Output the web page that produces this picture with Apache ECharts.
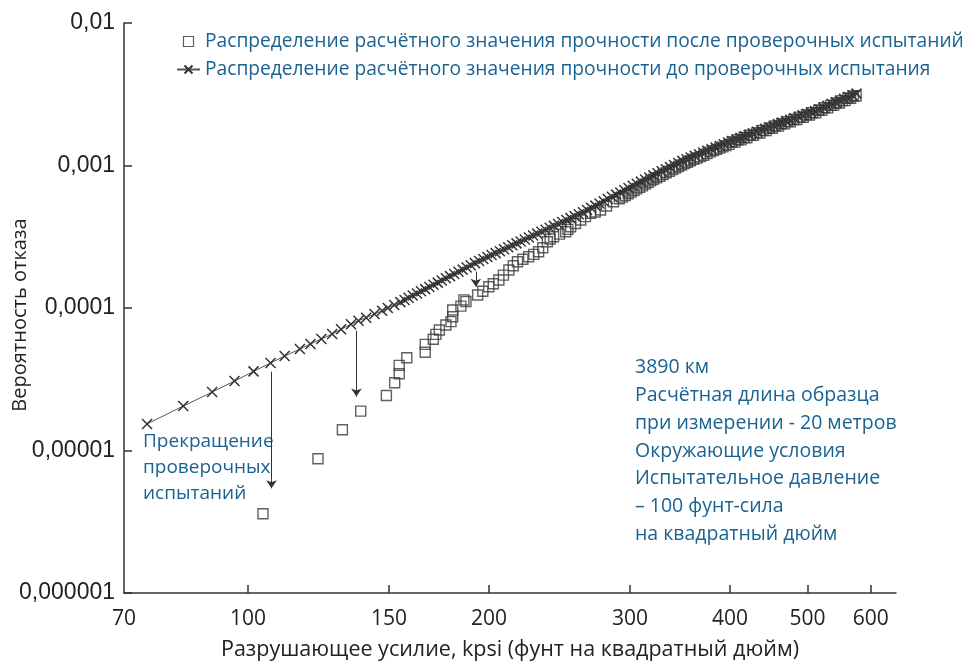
<!DOCTYPE html>
<html>
<head>
<meta charset="utf-8">
<title>Вероятность отказа</title>
<script src="https://cdn.jsdelivr.net/npm/echarts@6/dist/echarts.min.js"></script>
<style>
  html, body { margin: 0; padding: 0; background: #fff; }
  #chart { width: 966px; height: 666px; }
</style>
</head>
<body>
<div id="chart"></div>
<script>
// подписи оси X (kpsi)
const xTickLabels = [70, 100, 150, 200, 300, 400, 500, 600];
const xTickMarks = [100, 150, 200, 300, 400, 500, 600];

const beforeName = 'Распределение расчётного значения прочности до проверочных испытания';
const afterName = 'Распределение расчётного значения прочности после проверочных испытаний';

// до проверочных испытаний (крестики)
const beforeStrength = [
  74.8, 83.0, 90.2, 96.2, 101.6, 106.7, 111.1, 116.1, 119.7, 123.5,
  127.4, 130.7, 134.5, 137.4, 140.5, 143.9, 147.1, 149.5, 152.3, 155.0,
  156.9, 158.7, 160.6, 162.6, 164.5, 166.5, 168.5, 170.5, 172.6, 174.6,
  176.7, 178.8, 181.0, 183.2, 185.4, 187.6, 189.8, 192.1, 194.4, 196.8,
  199.1, 201.5, 203.9, 206.4, 208.9, 211.4, 213.9, 216.5, 219.1, 221.7,
  224.4, 227.1, 229.8, 232.6, 235.4, 238.2, 241.1, 244.0, 246.9, 249.9,
  252.9, 255.9, 259.0, 262.1, 265.2, 268.4, 271.6, 274.9, 278.2, 281.5,
  284.9, 288.3, 291.8, 295.3, 298.8, 302.4, 306.0, 309.7, 313.4, 317.2,
  321.0, 324.8, 328.7, 332.7, 336.7, 340.7, 344.8, 348.9, 353.1, 357.3,
  361.6, 366.0, 370.4, 374.8, 379.3, 383.9, 388.5, 393.1, 397.9, 402.6,
  407.5, 412.3, 417.3, 422.3, 427.3, 432.5, 437.7, 442.9, 448.2, 453.6,
  459.1, 464.6, 470.1, 475.8, 481.5, 487.3, 493.1, 499.0, 505.0, 511.1,
  517.2, 523.4, 529.7, 536.1, 542.5, 549.0, 555.6, 562.3, 569.0, 575.8
];
const beforeProb = [
  1.535e-5, 2.05e-5, 2.57e-5, 3.07e-5, 3.59e-5, 4.11e-5, 4.60e-5, 5.15e-5, 5.59e-5, 6.06e-5,
  6.57e-5, 7.09e-5, 7.69e-5, 8.15e-5, 8.55e-5, 9.08e-5, 9.57e-5, 1.00e-4, 1.05e-4, 1.10e-4,
  1.139e-4, 1.180e-4, 1.222e-4, 1.265e-4, 1.310e-4, 1.357e-4, 1.405e-4, 1.455e-4, 1.507e-4, 1.561e-4,
  1.616e-4, 1.674e-4, 1.733e-4, 1.795e-4, 1.859e-4, 1.925e-4, 1.994e-4, 2.065e-4, 2.138e-4, 2.208e-4,
  2.279e-4, 2.352e-4, 2.427e-4, 2.505e-4, 2.585e-4, 2.667e-4, 2.753e-4, 2.841e-4, 2.932e-4, 3.025e-4,
  3.122e-4, 3.222e-4, 3.325e-4, 3.431e-4, 3.540e-4, 3.653e-4, 3.770e-4, 3.890e-4, 4.014e-4, 4.142e-4,
  4.274e-4, 4.411e-4, 4.551e-4, 4.697e-4, 4.867e-4, 5.044e-4, 5.227e-4, 5.417e-4, 5.613e-4, 5.817e-4,
  6.028e-4, 6.247e-4, 6.474e-4, 6.709e-4, 6.953e-4, 7.205e-4, 7.451e-4, 7.705e-4, 7.968e-4, 8.240e-4,
  8.521e-4, 8.811e-4, 9.112e-4, 9.422e-4, 9.744e-4, 1.008e-3, 1.042e-3, 1.078e-3, 1.107e-3, 1.137e-3,
  1.168e-3, 1.200e-3, 1.233e-3, 1.266e-3, 1.301e-3, 1.336e-3, 1.372e-3, 1.410e-3, 1.448e-3, 1.487e-3,
  1.524e-3, 1.562e-3, 1.601e-3, 1.641e-3, 1.682e-3, 1.724e-3, 1.767e-3, 1.812e-3, 1.857e-3, 1.903e-3,
  1.951e-3, 2.000e-3, 2.048e-3, 2.097e-3, 2.147e-3, 2.198e-3, 2.251e-3, 2.305e-3, 2.360e-3, 2.416e-3,
  2.485e-3, 2.555e-3, 2.627e-3, 2.702e-3, 2.778e-3, 2.857e-3, 2.937e-3, 3.020e-3, 3.106e-3, 3.194e-3
];

// после проверочных испытаний (квадраты)
const afterStrength = [
  104.4, 122.3, 131.2, 138.3, 148.9, 152.5, 154.5, 154.5, 157.9, 166.5,
  166.5, 170.4, 171.7, 173.4, 176.7, 179.3, 180.2, 180.2, 184.5, 186.1,
  187.2, 193.6, 196.5, 199.9, 202.5, 205.8, 208.5, 211.8, 214.5, 217.1,
  220.5, 224.2, 227.5, 230.7, 233.5, 236.6, 238.5, 240.9, 245.0, 249.4,
  251.0, 253.0, 256.5, 260.4, 264.0, 267.9, 271.5, 275.7, 280.5, 286.2,
  291, 293.5, 296, 298.5, 301, 303.5, 306, 308.5, 311, 313.5,
  316, 318.5, 321, 324, 327, 330, 333, 336, 339, 342,
  345, 348, 351, 354, 357, 360.5, 364, 367.5, 371, 374.5,
  378, 381.5, 385, 388.5, 392, 395.5, 399, 402.5, 406, 409.5,
  413, 416.5, 420, 424, 428, 432, 436, 440, 444, 448,
  452, 456, 460, 464, 468, 472, 476, 480.5, 485, 489.5,
  494, 498.5, 503, 507.5, 512, 516.5, 521, 525.5, 530, 534.5,
  539, 543.5, 548, 552.5, 557, 561.5, 566, 570.5, 575
];
const afterProb = [
  3.60e-6, 8.76e-6, 1.40e-5, 1.89e-5, 2.43e-5, 2.99e-5, 3.46e-5, 3.96e-5, 4.48e-5, 4.89e-5,
  5.56e-5, 6.03e-5, 6.53e-5, 7.01e-5, 7.60e-5, 8.02e-5, 8.69e-5, 9.68e-5, 1.03e-4, 1.14e-4,
  1.11e-4, 1.234e-4, 1.31e-4, 1.411e-4, 1.48e-4, 1.572e-4, 1.70e-4, 1.848e-4, 1.98e-4, 2.113e-4,
  2.20e-4, 2.291e-4, 2.38e-4, 2.484e-4, 2.65e-4, 2.919e-4, 3.05e-4, 3.164e-4, 3.30e-4, 3.430e-4,
  3.56e-4, 3.720e-4, 3.92e-4, 4.145e-4, 4.38e-4, 4.62e-4, 4.72e-4, 4.87e-4, 5.20e-4, 5.57e-4,
  5.85e-4, 6.00e-4, 6.15e-4, 6.33e-4, 6.50e-4, 6.68e-4, 6.85e-4, 7.02e-4, 7.20e-4, 7.40e-4,
  7.60e-4, 7.80e-4, 8.00e-4, 8.20e-4, 8.40e-4, 8.65e-4, 8.90e-4, 9.12e-4, 9.35e-4, 9.60e-4,
  9.85e-4, 1.007e-3, 1.03e-3, 1.055e-3, 1.08e-3, 1.105e-3, 1.13e-3, 1.155e-3, 1.18e-3, 1.212e-3,
  1.246e-3, 1.272e-3, 1.298e-3, 1.325e-3, 1.352e-3, 1.379e-3, 1.406e-3, 1.462e-3, 1.460e-3, 1.517e-3,
  1.513e-3, 1.571e-3, 1.566e-3, 1.629e-3, 1.629e-3, 1.694e-3, 1.692e-3, 1.760e-3, 1.758e-3, 1.827e-3,
  1.824e-3, 1.894e-3, 1.889e-3, 1.962e-3, 1.959e-3, 2.032e-3, 2.025e-3, 2.105e-3, 2.102e-3, 2.185e-3,
  2.181e-3, 2.265e-3, 2.260e-3, 2.347e-3, 2.341e-3, 2.439e-3, 2.440e-3, 2.540e-3, 2.539e-3, 2.642e-3,
  2.640e-3, 2.747e-3, 2.745e-3, 2.855e-3, 2.852e-3, 2.965e-3, 2.961e-3, 3.077e-3, 3.072e-3
];

// стрелки "прекращение проверочных испытаний": [усилие, от, до]
const arrowStrength = [107.0, 136.6, 192.6];
const arrowFrom = [3.57e-5, 6.93e-5, 1.80e-4];
const arrowTo = [5.43e-6, 2.39e-5, 1.41e-4];

const noteLines = [
  '3890 км',
  'Расчётная длина образца',
  'при измерении - 20 метров',
  'Окружающие условия',
  'Испытательное давление',
  '– 100 фунт-сила',
  'на квадратный дюйм'
];

const blue = '#1a6391';
const ink = '#333';
const crossSymbol = 'path://M0,0L10,10M10,0L0,10';

const chart = echarts.init(document.getElementById('chart'));

const beforeData = beforeStrength.map((x, i) => [x, beforeProb[i]]);
const afterData = afterStrength.map((x, i) => [x, afterProb[i]]);
const arrows = arrowStrength.map((x, i) => [
  { coord: [x, arrowFrom[i]] },
  { coord: [x, arrowTo[i]] }
]);

const option = {
  animation: false,
  grid: {
    left: 124, right: 70, top: 23, bottom: 73,
    containLabel: false,
    outerBoundsMode: 'none'
  },
  legend: {
    orient: 'vertical',
    left: 176,
    top: 31,
    padding: 0,
    itemWidth: 23,
    itemHeight: 10,
    itemGap: 7,
    selectedMode: false,
    textStyle: { color: blue, fontFamily: 'Open Sans', fontSize: 19.2, lineHeight: 21 },
    data: [
      {
        name: afterName,
        icon: 'path://M0,0H10V10H0Z',
        itemStyle: { color: 'rgba(0,0,0,0)', borderColor: ink, borderWidth: 1.2 }
      },
      { name: beforeName }
    ]
  },
  xAxis: {
    type: 'log',
    logBase: 10,
    min: 70,
    max: 645,
    name: 'Разрушающее усилие, kpsi (фунт на квадратный дюйм)',
    nameLocation: 'middle',
    nameGap: 46,
    nameMoveOverlap: false,
    nameTextStyle: { color: '#222', fontFamily: 'Open Sans', fontSize: 21.5 },
    axisLine: { lineStyle: { color: ink, width: 1.5 } },
    axisTick: { inside: true, length: 8, customValues: xTickMarks, lineStyle: { color: ink, width: 1.5 } },
    axisLabel: {
      customValues: xTickLabels,
      formatter: v => String(Math.round(v)),
      color: '#222',
      fontFamily: 'Open Sans',
      fontSize: 21,
      margin: 16
    },
    splitLine: { show: false },
    minorTick: { show: false }
  },
  yAxis: {
    type: 'log',
    logBase: 10,
    min: 1e-6,
    max: 1e-2,
    name: 'Вероятность отказа',
    nameLocation: 'middle',
    nameGap: 94,
    nameMoveOverlap: false,
    nameRotate: 90,
    nameTextStyle: { color: '#222', fontFamily: 'Open Sans', fontSize: 20, padding: [0, 14, 0, 0] },
    axisLine: { lineStyle: { color: ink, width: 1.5 } },
    axisTick: { inside: true, length: 8, lineStyle: { color: ink, width: 1.5 } },
    axisLabel: {
      formatter: v => {
        const d = Math.round(-Math.log10(v));
        return v.toFixed(d).replace('.', ',');
      },
      color: '#222',
      fontFamily: 'Liberation Sans',
      fontSize: 23,
      margin: 9
    },
    splitLine: { show: false },
    minorTick: { show: false }
  },
  graphic: [
    {
      type: 'text',
      left: 143,
      top: 429,
      style: {
        text: 'Прекращение\nпроверочных\nиспытаний',
        fill: blue,
        fontFamily: 'Open Sans',
        fontSize: 19,
        lineHeight: 26
      }
    },
    {
      type: 'text',
      left: 635,
      top: 354,
      style: {
        text: noteLines.join('\n'),
        fill: blue,
        fontFamily: 'Open Sans',
        fontSize: 19.5,
        lineHeight: 27.7
      }
    }
  ],
  series: [
    {
      name: afterName,
      type: 'scatter',
      symbol: 'rect',
      symbolSize: 10,
      itemStyle: { color: 'rgba(0,0,0,0)', borderColor: '#3a3a3a', borderWidth: 1.4 },
      emphasis: { disabled: true },
      data: afterData,
      markLine: {
        silent: true,
        symbol: ['none', 'arrow'],
        symbolSize: 8,
        label: { show: false },
        itemStyle: { color: ink },
        lineStyle: { color: ink, width: 1, type: 'solid' },
        emphasis: { disabled: true },
        data: arrows
      }
    },
    {
      name: beforeName,
      type: 'line',
      symbol: crossSymbol,
      symbolSize: 10,
      showAllSymbol: true,
      lineStyle: { color: '#555', width: 1 },
      itemStyle: { color: ink, borderColor: ink, borderWidth: 1.5 },
      emphasis: { disabled: true },
      data: beforeData
    }
  ]
};

chart.setOption(option);
</script>
</body>
</html>
